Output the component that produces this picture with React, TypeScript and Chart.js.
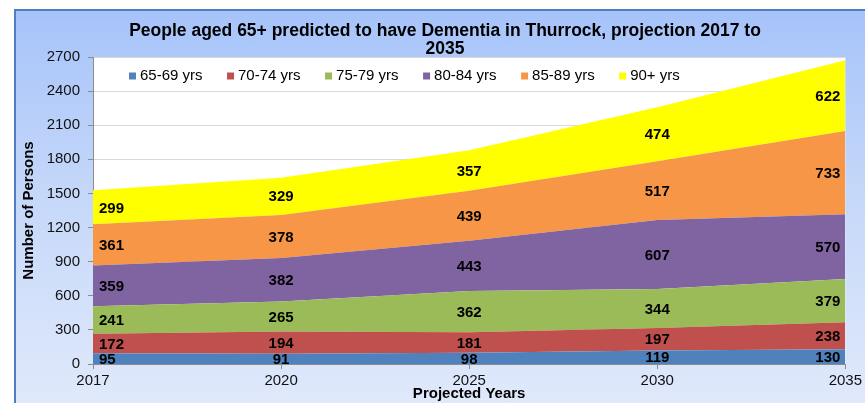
import { useEffect, useRef } from "react";
import { Chart, registerables } from "chart.js";

Chart.register(...registerables);

const categories = ["2017", "2020", "2025", "2030", "2035"];
const seriesNames = ["65-69 yrs", "70-74 yrs", "75-79 yrs", "80-84 yrs", "85-89 yrs", "90+ yrs"];
const age6569 = [95, 91, 98, 119, 130];
const age7074 = [172, 194, 181, 197, 238];
const age7579 = [241, 265, 362, 344, 379];
const age8084 = [359, 382, 443, 607, 570];
const age8589 = [361, 378, 439, 517, 733];
const age90plus = [299, 329, 357, 474, 622];
const seriesColors = ["#4f81bd", "#c0504d", "#9bbb59", "#8064a2", "#f79646", "#ffff00"];
const yMax = 2700;
const yStep = 300;
const titleLines = [
  "People aged 65+ predicted to have Dementia in Thurrock, projection 2017 to",
  "2035",
];
const xTitle = "Projected Years";
const yTitle = "Number of Persons";

const FONT = "'Liberation Sans', Arial, sans-serif";

const allSeries = [age6569, age7074, age7579, age8084, age8589, age90plus];

const customPlugin = {
  id: "customDraw",
  beforeDraw(chart: any) {
    const { ctx, chartArea } = chart;
    ctx.save();
    ctx.fillStyle = "#ffffff";
    ctx.fillRect(chartArea.left, chartArea.top, chartArea.right - chartArea.left, chartArea.bottom - chartArea.top);
    ctx.restore();
  },
  afterDatasetsDraw(chart: any) {
    const { ctx, chartArea } = chart;
    const xs = chart.scales.x;
    const ys = chart.scales.y;
    ctx.save();
    ctx.font = `bold 15px ${FONT}`;
    ctx.fillStyle = "#000000";
    ctx.textBaseline = "middle";
    ctx.textAlign = "left";
    const cum = categories.map(() => 0);
    allSeries.forEach((vals) => {
      vals.forEach((v, j) => {
        const base = cum[j];
        const yMid = ys.getPixelForValue(base + v / 2);
        const xc = xs.getPixelForValue(j);
        const txt = String(v);
        const w = ctx.measureText(txt).width;
        let left = xc - w / 2;
        if (left < chartArea.left + 6) left = chartArea.left + 6;
        if (left + w > chartArea.right - 5) left = chartArea.right - 5 - w;
        ctx.fillText(txt, left, yMid + 1);
        cum[j] = base + v;
      });
    });
    ctx.restore();
  },
  afterDraw(chart: any) {
    const { ctx } = chart;
    ctx.save();
    ctx.font = `bold 17.5px ${FONT}`;
    ctx.fillStyle = "#000000";
    ctx.textAlign = "center";
    ctx.textBaseline = "alphabetic";
    titleLines.forEach((line, i) => {
      ctx.fillText(line, 445, 36 + i * 18);
    });
    ctx.font = `15px ${FONT}`;
    ctx.textAlign = "left";
    ctx.textBaseline = "middle";
    let x = 129;
    const yc = 76;
    seriesNames.forEach((name, i) => {
      ctx.fillStyle = seriesColors[i];
      ctx.fillRect(x, yc - 3.5, 7, 7);
      ctx.fillStyle = "#000000";
      ctx.fillText(name, x + 11, yc);
      x += 11 + ctx.measureText(name).width + 24.5;
    });
    ctx.restore();
  },
};

export default function App() {
  const canvasRef = useRef<HTMLCanvasElement | null>(null);

  useEffect(() => {
    const canvas = canvasRef.current;
    if (!canvas) return;
    const chart = new Chart(canvas, {
      type: "line",
      data: {
        labels: categories,
        datasets: allSeries.map((vals, i) => ({
          label: seriesNames[i],
          data: vals,
          backgroundColor: seriesColors[i],
          borderColor: seriesColors[i],
          borderWidth: 0,
          pointRadius: 0,
          tension: 0,
          fill: i === 0 ? "origin" : "-1",
        })),
      },
      options: {
        responsive: false,
        animation: false,
        devicePixelRatio: 1,
        layout: { padding: { left: 14, right: 17, top: 57, bottom: 0 } },
        plugins: {
          legend: { display: false },
          title: { display: false },
          tooltip: { enabled: false },
        },
        scales: {
          x: {
            type: "category",
            offset: false,
            grid: { drawOnChartArea: false, drawTicks: true, tickLength: 5, color: "#8c8c8c" },
            border: { color: "#8c8c8c", width: 1 },
            ticks: {
              font: { family: FONT, size: 15 },
              color: "#111111",
              maxRotation: 0,
              autoSkip: false,
              padding: 3,
            },
            title: {
              display: true,
              text: xTitle,
              font: { family: FONT, size: 15, weight: "bold" },
              color: "#000000",
              padding: { top: 0, bottom: 0 },
            },
            afterFit(scale: any) {
              scale.height = 39;
            },
          },
          y: {
            stacked: true,
            min: 0,
            max: yMax,
            grid: { color: "#d9d9d9", tickLength: 5, drawTicks: true, tickColor: "#8c8c8c" },
            border: { color: "#8c8c8c", width: 1 },
            ticks: {
              stepSize: yStep,
              font: { family: FONT, size: 15 },
              color: "#111111",
              padding: 8,
              callback: (v: any) => String(v),
            },
            title: {
              display: true,
              text: yTitle,
              font: { family: FONT, size: 15, weight: "bold" },
              color: "#000000",
              padding: { top: 6, bottom: 0 },
            },
            afterFit(scale: any) {
              scale.width = 79;
            },
          },
        },
      } as any,
      plugins: [customPlugin],
    });
    return () => {
      chart.destroy();
    };
  }, []);

  return (
    <div
      style={{
        position: "fixed",
        left: 0,
        top: 0,
        width: 865,
        height: 403,
        background: "#ffffff",
        overflow: "hidden",
      }}
    >
      <div
        style={{
          position: "absolute",
          left: 14,
          top: 9,
          width: 865 - 14,
          height: 403 - 9,
          boxSizing: "border-box",
          borderLeft: "2px solid #4f7fc0",
          borderTop: "2px solid #4f7fc0",
          background: "linear-gradient(to bottom, #a6c3fa 0%, #c4d7f9 45%, #e0e9fb 100%)",
        }}
      />
      <canvas
        ref={canvasRef}
        width={865}
        height={403}
        style={{ position: "absolute", left: 0, top: 0, width: 865, height: 403 }}
      />
    </div>
  );
}
